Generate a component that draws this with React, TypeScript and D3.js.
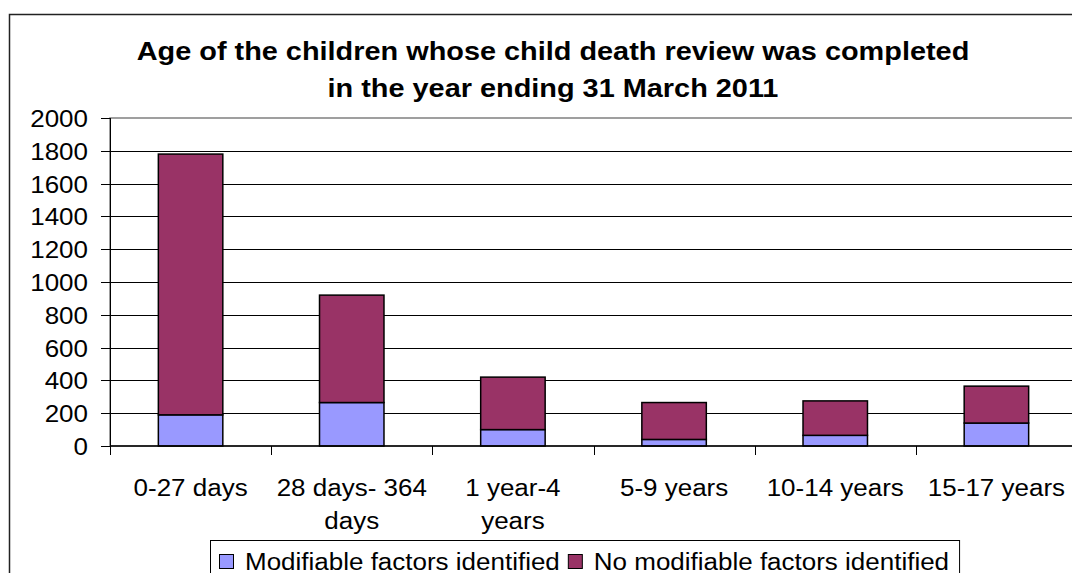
import React, { useEffect, useRef } from "react";
import * as d3 from "d3";

const categories = [
  ["0-27 days"],
  ["28 days- 364", "days"],
  ["1 year-4", "years"],
  ["5-9 years"],
  ["10-14 years"],
  ["15-17 years"],
];
const modifiable = [190, 265, 100, 40, 65, 140];
const noModifiable = [1590, 655, 320, 225, 210, 225];
const seriesNames = ["Modifiable factors identified", "No modifiable factors identified"];
const seriesColors = ["#9999FF", "#993366"];
const yTicks = [0, 200, 400, 600, 800, 1000, 1200, 1400, 1600, 1800, 2000];
const titleLines = [
  "Age of the children whose child death review was completed",
  "in the year ending 31 March 2011",
];

const W = 1080;
const H = 581;
const FONT = "'Liberation Sans', Arial, sans-serif";
// the original's text is a little wider than Liberation Sans at the same height
const STRETCH = 1.13;

const App = () => {
  const ref = useRef<SVGSVGElement | null>(null);

  useEffect(() => {
    const svg = d3.select(ref.current);
    svg.selectAll("*").remove();

    const addText = (
      g: any,
      x: number,
      y: number,
      s: string,
      size: number,
      anchor = "start",
      bold = false,
      stretch = STRETCH
    ) =>
      g
        .append("text")
        .attr("transform", `translate(${x},${y}) scale(${stretch},1)`)
        .attr("text-anchor", anchor)
        .attr("font-family", FONT)
        .attr("font-weight", bold ? "bold" : "normal")
        .attr("font-size", size)
        .text(s);

    const left = 110;
    const right = 1077;
    const top = 118;
    const bottom = 446;

    const x = d3
      .scaleBand()
      .domain(categories.map((d, i) => String(i)))
      .range([left, right])
      .paddingInner(0.6)
      .paddingOuter(0.3);
    const y = d3.scaleLinear().domain([0, 2000]).range([bottom, top]);

    // outer chart frame
    svg
      .append("rect")
      .attr("x", 9.5)
      .attr("y", 14.5)
      .attr("width", 1100)
      .attr("height", 600)
      .attr("fill", "white")
      .attr("stroke", "#222")
      .attr("stroke-width", 1.5);

    // title
    titleLines.forEach((t, i) => addText(svg, 553, 60 + i * 37, t, 25, "middle", true, 1.155));

    // plot area border
    svg
      .append("rect")
      .attr("x", left)
      .attr("y", top)
      .attr("width", right - left)
      .attr("height", bottom - top)
      .attr("fill", "none")
      .attr("stroke", "#808080")
      .attr("stroke-width", 1.5);

    // gridlines
    svg
      .append("g")
      .selectAll("line")
      .data(yTicks.filter((v) => v > 0 && v < 2000))
      .join("line")
      .attr("x1", left)
      .attr("x2", right)
      .attr("y1", (d) => Math.round(y(d)) + 0.5)
      .attr("y2", (d) => Math.round(y(d)) + 0.5)
      .attr("stroke", "#000")
      .attr("stroke-width", 1);

    // stacked bars
    const stackData = categories.map((c, i) => ({
      key: String(i),
      a: modifiable[i],
      b: noModifiable[i],
    }));
    const stacked = d3.stack<any>().keys(["a", "b"])(stackData);
    stacked.forEach((layer, si) => {
      svg
        .append("g")
        .selectAll("rect")
        .data(layer)
        .join("rect")
        .attr("x", (d: any) => x(d.data.key)!)
        .attr("width", x.bandwidth())
        .attr("y", (d) => y(d[1]))
        .attr("height", (d) => y(d[0]) - y(d[1]))
        .attr("fill", seriesColors[si])
        .attr("stroke", "#000")
        .attr("stroke-width", 1.5);
    });

    // y axis
    const yAxis = svg.append("g");
    yAxis
      .append("line")
      .attr("x1", left + 0.5)
      .attr("x2", left + 0.5)
      .attr("y1", top)
      .attr("y2", bottom)
      .attr("stroke", "#000");
    yTicks.forEach((v) => {
      const yy = Math.round(y(v)) + 0.5;
      yAxis
        .append("line")
        .attr("x1", left - 9)
        .attr("x2", left)
        .attr("y1", yy)
        .attr("y2", yy)
        .attr("stroke", "#000");
      addText(yAxis, 88, yy + 8, String(v), 23, "end");
    });

    // x axis
    const xAxis = svg.append("g");
    xAxis
      .append("line")
      .attr("x1", left)
      .attr("x2", right)
      .attr("y1", bottom)
      .attr("y2", bottom)
      .attr("stroke", "#000")
      .attr("stroke-width", 1.5);
    const step = x.step();
    d3.range(categories.length + 1).forEach((i) => {
      const xx = Math.round(left + i * step) + 0.5;
      xAxis
        .append("line")
        .attr("x1", xx)
        .attr("x2", xx)
        .attr("y1", bottom)
        .attr("y2", bottom + 9)
        .attr("stroke", "#000");
    });
    categories.forEach((lines, i) => {
      const cx = x(String(i))! + x.bandwidth() / 2;
      lines.forEach((l, li) => addText(xAxis, cx, 496 + li * 33, l, 23, "middle"));
    });

    // legend
    const lg = svg.append("g");
    const box = lg
      .append("rect")
      .attr("x", 210.5)
      .attr("y", 540.5)
      .attr("width", 752)
      .attr("height", 60)
      .attr("fill", "white")
      .attr("stroke", "#000");
    let cursor = 219;
    seriesNames.forEach((name, i) => {
      lg.append("rect")
        .attr("x", cursor + 0.5)
        .attr("y", 554.5)
        .attr("width", 14)
        .attr("height", 14)
        .attr("fill", seriesColors[i])
        .attr("stroke", "#000");
      const t = addText(lg, cursor + 26, 570, name, 23);
      const len = (t.node() as SVGTextElement).getComputedTextLength() * STRETCH;
      cursor = cursor + 26 + len + 8;
    });
    box.attr("width", cursor - 210 + 2);
  }, []);

  return <svg ref={ref} width={W} height={H} style={{ display: "block", margin: "-8px" }} />;
};

export default App;
